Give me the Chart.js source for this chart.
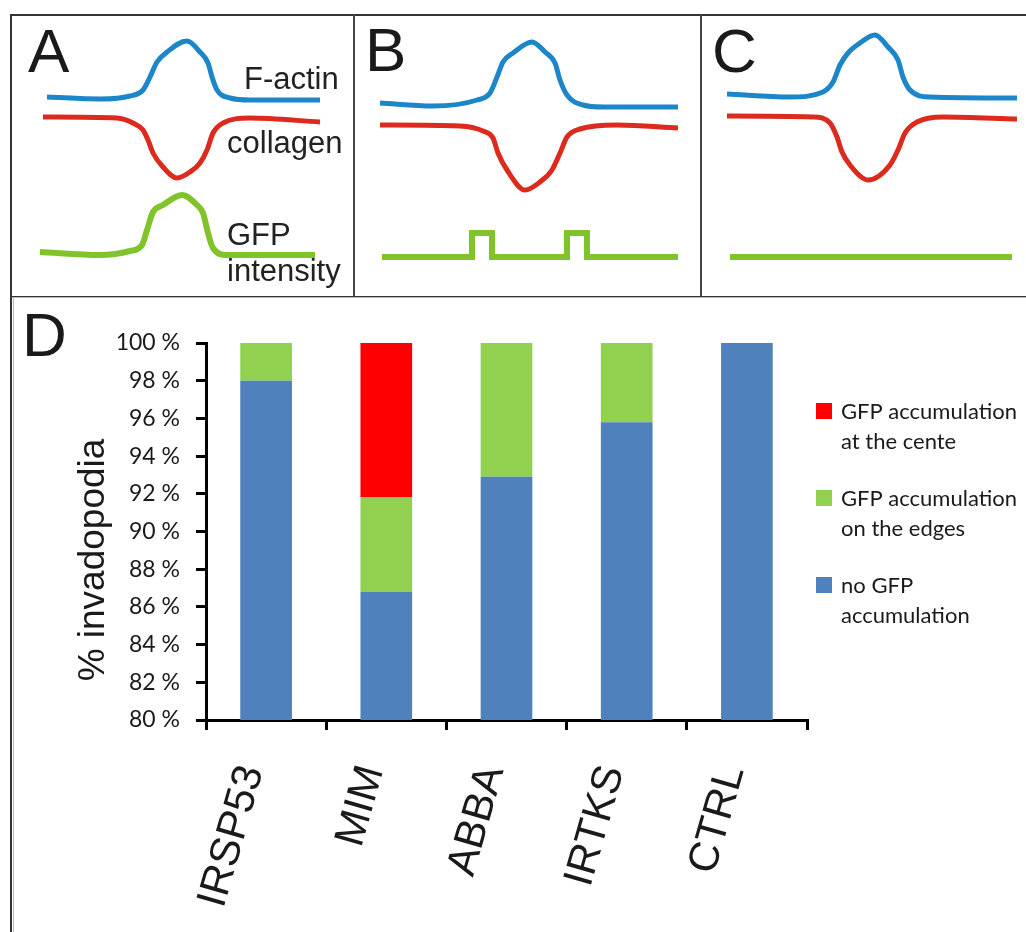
<!DOCTYPE html>
<html>
<head>
<meta charset="utf-8">
<script src="https://cdn.jsdelivr.net/npm/chart.js@4.4.1/dist/chart.umd.min.js"></script>
<style>
body { margin:0; background:#fff; width:1026px; height:932px; overflow:hidden; position:relative; font-family:"Liberation Sans", Arial, sans-serif; }
.abs { position:absolute; white-space:nowrap; }
.big { font-size:62px; line-height:62px; color:#1a1a1a; }
.lab { font-size:31px; line-height:31px; color:#222; }
canvas { position:absolute; }
</style>
</head>
<body>
<!-- frames -->
<div class="abs" style="left:10px;top:14px;width:1030px;height:280px;border:2px solid #333;border-right:none;"></div>
<div class="abs" style="left:353px;top:14px;width:2px;height:282px;background:#444;"></div>
<div class="abs" style="left:700px;top:14px;width:2px;height:282px;background:#444;"></div>
<div class="abs" style="left:10px;top:297px;width:1030px;height:1px;background:#bbb;"></div>
<div class="abs" style="left:10px;top:296px;width:2px;height:640px;background:#333;"></div>
<div class="abs" style="left:13px;top:298px;width:1px;height:640px;background:#bbb;"></div>

<canvas id="panelA" width="344" height="296" style="left:10px;top:0px;"></canvas>
<canvas id="panelB" width="347" height="296" style="left:354px;top:0px;"></canvas>
<canvas id="panelC" width="325" height="296" style="left:701px;top:0px;"></canvas>
<canvas id="panelD" width="1012" height="634" style="left:14px;top:298px;"></canvas>

<div class="abs big" style="left:28px;top:20px;">A</div>
<div class="abs big" style="left:365px;top:19px;">B</div>
<div class="abs big" style="left:712px;top:20px;">C</div>
<div class="abs big" style="left:22px;top:304px;">D</div>
<div class="abs lab" style="left:244px;top:63px;">F-actin</div>
<div class="abs lab" style="left:227px;top:127px;">collagen</div>
<div class="abs lab" style="left:227px;top:219px;">GFP</div>
<div class="abs lab" style="left:227px;top:255px;">intensity</div>

<script>
// profile sketches, [position, height] (height grows downward)
var actinA = [[37,97],[90,99],[120,96],[133,90],[140,77],[147,62],[157,52],[177,41],[190,52],[198,63],[202,77],[207,90],[220,98],[240,100],[310,100]];
var collagenA = [[33,117],[107,118],[123,123],[133,130],[138,140],[143,153],[153,167],[167,178],[180,172],[190,163],[197,150],[203,133],[213,123],[240,118],[310,122]];
var gfpA = [[30,252],[90,255],[120,251],[132,245],[137,230],[143,212],[153,205],[172,195],[187,205],[193,213],[198,233],[203,248],[217,255],[305,255]];

var actinB = [[26,103],[79,106],[123,100],[136,93],[143,77],[149,62],[159,53],[178,42],[191,52],[201,63],[206,80],[213,95],[229,105],[249,107],[324,107]];
var collagenB = [[26,125],[106,126],[129,131],[139,138],[144,153],[153,170],[171,190],[186,182],[198,170],[206,153],[213,137],[226,129],[263,125],[324,128]];
var gfpB = [[28,257],[118,257],[118,233],[138,233],[138,257],[213,257],[213,233],[233,233],[233,257],[324,257]];

var actinC = [[26,94],[89,97],[122,92],[132,82],[139,65],[147,53],[159,43],[174,35],[187,47],[197,60],[202,77],[209,90],[229,97],[316,98]];
var collagenC = [[26,116],[112,117],[129,123],[136,137],[141,152],[149,165],[167,180],[189,165],[197,150],[204,133],[216,122],[242,117],[316,119]];
var gfpC = [[29,257],[311,257]];

// panel D
var categories = ['IRSP53', 'MIM', 'ABBA', 'IRTKS', 'CTRL'];
var noGfp = [98.0, 86.8, 92.9, 95.8, 100];
var atEdges = [2.0, 5.0, 7.1, 4.2, 0];
var atCentre = [0, 8.2, 0, 0, 0];
var seriesLines = [['no GFP', 'accumulation'], ['GFP accumulation', 'on the edges'], ['GFP accumulation', 'at the cente']];

function toPts(arr) {
    return arr.map(function (p) { return {x: p[0], y: p[1]}; });
}

function sketch(id, actin, collagen, gfp, stepGfp) {
    var c = document.getElementById(id);
    new Chart(c.getContext('2d'), {
        type: 'line',
        data: {
            datasets: [
                {data: toPts(actin), borderColor: '#1c86c9', borderWidth: 5, cubicInterpolationMode: 'monotone'},
                {data: toPts(collagen), borderColor: '#dd2a1f', borderWidth: 5, cubicInterpolationMode: 'monotone'},
                {data: toPts(gfp), borderColor: '#80c32a', borderWidth: 6, tension: stepGfp ? 0 : 0.4, cubicInterpolationMode: stepGfp ? 'default' : 'monotone', borderJoinStyle: 'miter'}
            ]
        },
        options: {
            responsive: false,
            animation: false,
            layout: {padding: 0},
            elements: {point: {radius: 0}},
            plugins: {legend: {display: false}, tooltip: {enabled: false}},
            scales: {
                x: {type: 'linear', display: false, min: 0, max: c.width},
                y: {display: false, min: 0, max: c.height, reverse: true}
            }
        }
    });
}

sketch('panelA', actinA, collagenA, gfpA, false);
sketch('panelB', actinB, collagenB, gfpB, true);
sketch('panelC', actinC, collagenC, gfpC, true);

var sideLegend = {
    id: 'sideLegend',
    afterDraw: function (chart) {
        var ctx = chart.ctx, a = chart.chartArea;
        var ds = chart.data.datasets.slice().reverse();
        ctx.save();
        ctx.font = '22px Lato';
        ctx.textAlign = 'left';
        ctx.textBaseline = 'alphabetic';
        ds.forEach(function (d, i) {
            var top = a.top + 60 + i * 87;
            ctx.fillStyle = d.backgroundColor;
            ctx.fillRect(a.right + 9, top, 16, 16);
            ctx.fillStyle = '#1a1a1a';
            d.lines.forEach(function (t, j) {
                ctx.fillText(t, a.right + 34, top + 16 + j * 30);
            });
        });
        // axis title
        ctx.translate(a.left - 112, a.top + 217);
        ctx.rotate(-Math.PI / 2);
        ctx.font = '37px "Liberation Sans"';
        ctx.textAlign = 'center';
        ctx.textBaseline = 'middle';
        ctx.fillStyle = '#1a1a1a';
        ctx.fillText('% invadopodia', 0, 0);
        ctx.restore();
    }
};

var ctxD = document.getElementById('panelD').getContext('2d');
new Chart(ctxD, {
    type: 'bar',
    data: {
        labels: categories,
        datasets: [
            {label: seriesLines[0].join(' '), lines: seriesLines[0], data: noGfp, backgroundColor: '#4f81bd'},
            {label: seriesLines[1].join(' '), lines: seriesLines[1], data: atEdges, backgroundColor: '#92d050'},
            {label: seriesLines[2].join(' '), lines: seriesLines[2], data: atCentre, backgroundColor: '#ff0000'}
        ]
    },
    options: {
        responsive: false,
        animation: false,
        layout: {padding: {top: 45, right: 219, left: 0, bottom: 0}},
        categoryPercentage: 1,
        barPercentage: 0.43,
        plugins: {legend: {display: false}, tooltip: {enabled: false}},
        scales: {
            x: {
                stacked: true,
                offset: true,
                grid: {offset: true, drawOnChartArea: false, tickLength: 10, lineWidth: 3, color: '#000'},
                border: {display: true, width: 3, color: '#000'},
                ticks: {minRotation: 74, maxRotation: 74, padding: 30, labelOffset: -14, color: '#1a1a1a', font: {family: 'Liberation Sans', size: 42}},
                afterFit: function (s) { s.height = 212; }
            },
            y: {
                stacked: true,
                min: 80,
                max: 100,
                grid: {drawOnChartArea: false, tickLength: 10, lineWidth: 3, color: '#000'},
                border: {display: true, width: 3, color: '#000'},
                ticks: {stepSize: 2, padding: 16, color: '#1a1a1a', font: {family: 'Lato', size: 23},
                    callback: function (v) { return v + ' %'; }},
                afterFit: function (s) { s.width = 192; }
            }
        }
    },
    plugins: [sideLegend]
});
</script>
</body>
</html>
